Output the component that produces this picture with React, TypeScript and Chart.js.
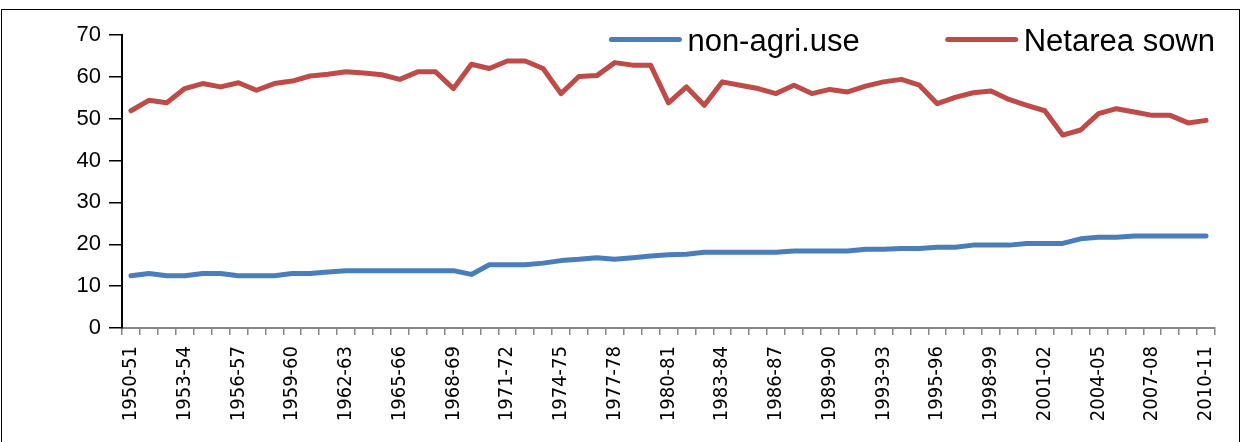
import React, { useEffect, useRef } from "react";
import { Chart, registerables } from "chart.js";

Chart.register(...registerables);

const categories: string[] = [
  "1950-51", "1951-52", "1952-53", "1953-54", "1954-55", "1955-56", "1956-57", "1957-58", "1958-59", "1959-60",
  "1960-61", "1961-62", "1962-63", "1963-64", "1964-65", "1965-66", "1966-67", "1967-68", "1968-69", "1969-70",
  "1970-71", "1971-72", "1972-73", "1973-74", "1974-75", "1975-76", "1976-77", "1977-78", "1978-79", "1979-80",
  "1980-81", "1981-82", "1982-83", "1983-84", "1984-85", "1985-86", "1986-87", "1987-88", "1988-89", "1989-90",
  "1990-91", "1991-92", "1993-93", "1993-94", "1994-95", "1995-96", "1996-97", "1997-98", "1998-99", "1999-00",
  "2000-01", "2001-02", "2002-03", "2003-04", "2004-05", "2005-06", "2006-07", "2007-08", "2008-09", "2009-10",
  "2010-11",
];

const nonAgriUse: number[] = [
  12.5, 13.0, 12.5, 12.5, 13.0, 13.0, 12.5, 12.5, 12.5, 13.0,
  13.0, 13.4, 13.7, 13.7, 13.7, 13.7, 13.7, 13.7, 13.7, 12.8,
  15.1, 15.1, 15.1, 15.5, 16.1, 16.4, 16.8, 16.4, 16.8, 17.2,
  17.5, 17.6, 18.1, 18.1, 18.1, 18.1, 18.1, 18.4, 18.4, 18.4,
  18.4, 18.8, 18.8, 19.0, 19.0, 19.3, 19.3, 19.8, 19.8, 19.8,
  20.2, 20.2, 20.2, 21.3, 21.7, 21.7, 22.0, 22.0, 22.0, 22.0,
  22.0,
];

const netAreaSown: number[] = [
  51.9, 54.4, 53.8, 57.2, 58.4, 57.6, 58.6, 56.8, 58.4, 59.0,
  60.2, 60.6, 61.2, 60.9, 60.5, 59.4, 61.2, 61.2, 57.2, 63.0,
  62.0, 63.8, 63.8, 62.0, 56.0, 60.1, 60.3, 63.4, 62.8, 62.8,
  53.8, 57.6, 53.2, 58.8, 58.0, 57.2, 56.0, 58.0, 56.0, 57.0,
  56.4, 57.8, 58.8, 59.4, 58.0, 53.6, 55.1, 56.2, 56.6, 54.6,
  53.2, 51.9, 46.1, 47.3, 51.2, 52.4, 51.6, 50.8, 50.8, 49.0,
  49.6,
];

const seriesNames: string[] = ["non-agri.use", "Netarea sown"];
const seriesColors: string[] = ["#4A7EBB", "#BE4B48"];
const yTicks: number[] = [0, 10, 20, 30, 40, 50, 60, 70];
const labelStep = 3;

const legendPlugin = {
  id: "insideLegend",
  afterDraw(chart: any) {
    const ctx = chart.ctx;
    ctx.save();
    ctx.font = '31px "Liberation Sans", Arial, sans-serif';
    ctx.textBaseline = "alphabetic";
    ctx.textAlign = "left";
    const baseline = 51;
    const lineY = 39.5;
    let right = 1215;
    const ds = chart.data.datasets;
    for (let i = ds.length - 1; i >= 0; i--) {
      const label = ds[i].label as string;
      const w = ctx.measureText(label).width;
      const textX = right - w;
      ctx.fillStyle = "#000";
      ctx.fillText(label, textX, baseline);
      ctx.strokeStyle = ds[i].borderColor;
      ctx.lineWidth = 5;
      ctx.lineCap = "round";
      ctx.beginPath();
      ctx.moveTo(textX - 76, lineY);
      ctx.lineTo(textX - 8, lineY);
      ctx.stroke();
      right = textX - 78 - 86;
    }
    ctx.restore();
  },
};

export default function App() {
  const canvasRef = useRef<HTMLCanvasElement | null>(null);

  useEffect(() => {
    const canvas = canvasRef.current;
    if (!canvas) return;
    const chart = new Chart(canvas, {
      type: "line",
      data: {
        labels: categories,
        datasets: [
          {
            label: seriesNames[0],
            data: nonAgriUse,
            borderColor: seriesColors[0],
            backgroundColor: seriesColors[0],
            borderWidth: 5,
            pointRadius: 0,
            tension: 0,
            borderCapStyle: "round",
            borderJoinStyle: "round",
          },
          {
            label: seriesNames[1],
            data: netAreaSown,
            borderColor: seriesColors[1],
            backgroundColor: seriesColors[1],
            borderWidth: 5,
            pointRadius: 0,
            tension: 0,
            borderCapStyle: "round",
            borderJoinStyle: "round",
          },
        ],
      },
      options: {
        responsive: false,
        animation: false,
        layout: { padding: { left: 0, top: 35, right: 28, bottom: 0 } },
        plugins: {
          legend: { display: false },
          tooltip: { enabled: false },
        },
        scales: {
          x: {
            type: "category",
            offset: true,
            grid: {
              offset: true,
              drawOnChartArea: false,
              drawTicks: true,
              tickLength: 7,
              color: "#868686",
              lineWidth: 1.5,
            },
            border: { display: true, color: "#868686", width: 2 },
            ticks: {
              autoSkip: false,
              maxRotation: 90,
              minRotation: 90,
              padding: 11,
              color: "#000",
              font: { family: '"Liberation Sans Narrow", "DejaVu Sans Condensed", "Liberation Sans", sans-serif', size: 20 },
              callback: (_v: any, idx: number) => (idx % labelStep === 0 ? categories[idx] : ""),
            },
            afterFit: (scale: any) => {
              scale.height = 114;
            },
          },
          y: {
            min: yTicks[0],
            max: yTicks[yTicks.length - 1],
            afterBuildTicks: (scale: any) => {
              scale.ticks = yTicks.map((v) => ({ value: v }));
            },
            grid: {
              drawOnChartArea: false,
              drawTicks: true,
              tickLength: 13,
              color: "#000",
              lineWidth: 1.5,
            },
            border: { display: true, color: "#000", width: 2 },
            ticks: {
              padding: 8,
              color: "#000",
              font: { family: '"Liberation Sans", Arial, sans-serif', size: 22 },
            },
            afterFit: (scale: any) => {
              scale.width = 122;
            },
          },
        },
      },
      plugins: [legendPlugin],
    });
    return () => chart.destroy();
  }, []);

  return (
    <div style={{ position: "fixed", left: 0, top: 0, width: 1243, height: 442, background: "#fff" }}>
      <canvas ref={canvasRef} width={1243} height={442} style={{ position: "absolute", left: 0, top: 0 }} />
      <div
        style={{
          position: "absolute",
          left: 1,
          top: 9,
          width: 1239,
          height: 460,
          border: "1.5px solid #000",
          boxSizing: "border-box",
          pointerEvents: "none",
        }}
      />
    </div>
  );
}
